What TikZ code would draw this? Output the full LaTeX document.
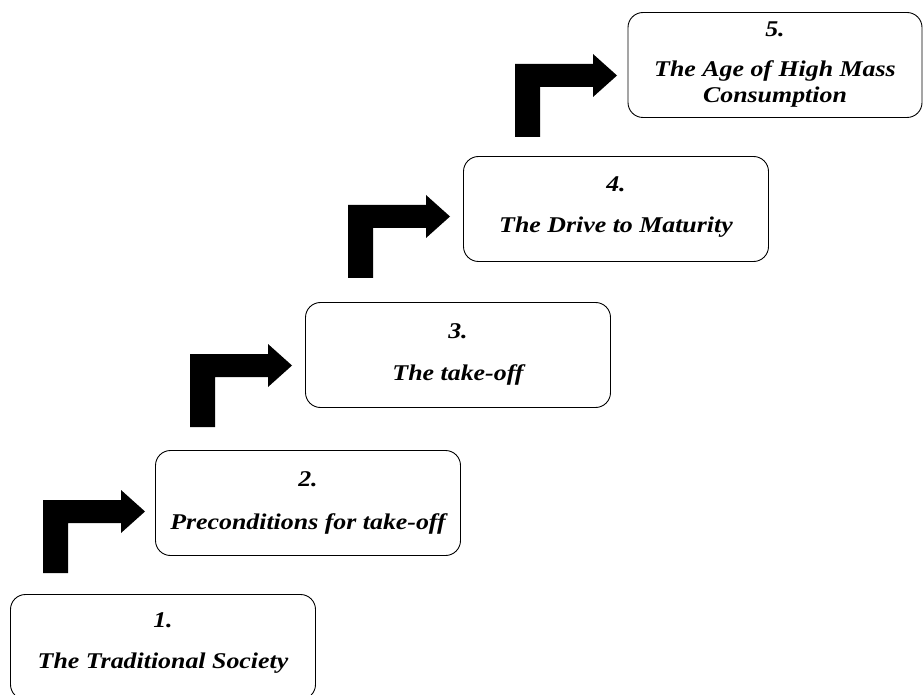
\documentclass[tikz,border=0pt]{standalone}
\usepackage{fontspec}
\setmainfont{Liberation Serif}[FakeStretch=1.15]
\begin{document}
\begin{tikzpicture}[x=1pt,y=-1pt,
  stage/.style={draw, line width=0.9pt, rounded corners=15pt, inner sep=0pt, minimum width=305pt, minimum height=105pt},
  txt/.style={font=\fontsize{22.5}{26}\selectfont\bfseries\itshape, inner sep=0pt, align=center},
  bentarrow/.pic={\fill[black] (0,0) -- (25,0) -- (25,-50) -- (78,-50) -- (78,-40) -- (102,-61.5) -- (78,-83) -- (78,-73) -- (0,-73) -- cycle;}]
\clip (0,0) rectangle (924,695);
\node[stage] (b1) at (163,647) {};
\node[stage] (b2) at (308,503) {};
\node[stage] (b3) at (458,355) {};
\node[stage] (b4) at (616,209) {};
\node[stage, minimum width=294pt] (b5) at (775,65) {};
\node[txt] (n1) at ([yshift=-26pt]b1.north) {1.};
\node[txt] (t1) at ([yshift=-69pt]b1.north) {The Traditional Society};
\node[txt] (n2) at ([yshift=-29pt]b2.north) {2.};
\node[txt] (t2) at ([yshift=-74pt]b2.north) {Preconditions for take-off};
\node[txt] (n3) at ([yshift=-29pt]b3.north) {3.};
\node[txt] (t3) at ([yshift=-73pt]b3.north) {The take-off};
\node[txt] (n4) at ([yshift=-28pt]b4.north) {4.};
\node[txt] (t4) at ([yshift=-71pt]b4.north) {The Drive to Maturity};
\node[txt] (n5) at ([yshift=-17pt]b5.north) {5.};
\node[txt] (t5) at ([yshift=-72pt]b5.north) {The Age of High Mass\\Consumption};
\pic at (43,573) {bentarrow};
\pic at (190,427) {bentarrow};
\pic at (348,278) {bentarrow};
\pic at (515,137) {bentarrow};
\end{tikzpicture}
\end{document}
